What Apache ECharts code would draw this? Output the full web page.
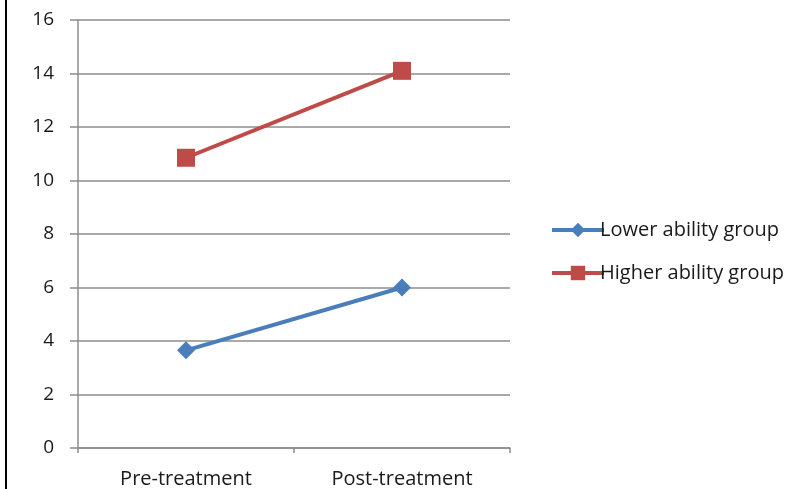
<!DOCTYPE html>
<html>
<head>
<meta charset="utf-8">
<script src="https://cdn.jsdelivr.net/npm/echarts@6/dist/echarts.min.js"></script>
<style>
  html, body { margin: 0; padding: 0; background: #ffffff; }
  #chart { width: 790px; height: 489px; }
</style>
</head>
<body>
<div id="chart"></div>
<script>
// Mean scores before and after treatment, by ability group
const categories = ['Pre-treatment', 'Post-treatment'];
const lowerAbility = [3.65, 6.0];
const higherAbility = [10.85, 14.1];
const seriesNames = ['Lower ability group', 'Higher ability group'];

const FONT = '"Open Sans", "Liberation Sans", sans-serif';
const gridColor = '#8c8c8c';
const textColor = '#1a1a1a';

const chart = echarts.init(document.getElementById('chart'), null, { renderer: 'canvas' });

chart.setOption({
  backgroundColor: '#ffffff',
  animation: false,
  graphic: [
    { type: 'rect', shape: { x: 5, y: 0, width: 2, height: 489 }, style: { fill: '#000000' }, silent: true }
  ],
  grid: { left: 78, right: 280, top: 20, bottom: 41, containLabel: false },
  legend: {
    orient: 'vertical',
    left: 545,
    top: 215,
    itemGap: 23,
    itemWidth: 52,
    itemHeight: 18,
    data: seriesNames,
    lineStyle: { width: 4 },
    textStyle: { fontFamily: FONT, fontSize: 20, color: textColor, padding: [0, 0, 0, -9] }
  },
  xAxis: {
    type: 'category',
    data: categories,
    boundaryGap: true,
    axisLine: { lineStyle: { color: gridColor, width: 1.5 } },
    axisTick: { show: true, length: 5, lineStyle: { color: gridColor, width: 1.5 } },
    axisLabel: { fontFamily: FONT, fontSize: 20, color: textColor, margin: 21 },
    splitLine: { show: false }
  },
  yAxis: {
    type: 'value',
    min: 0,
    max: 16,
    interval: 2,
    axisLine: { show: true, lineStyle: { color: gridColor, width: 1.5 } },
    axisTick: { show: true, length: 8, lineStyle: { color: gridColor, width: 1.5 } },
    axisLabel: { fontFamily: FONT, fontSize: 19, color: textColor, margin: 24 },
    splitLine: { show: true, lineStyle: { color: gridColor, width: 1.5 } }
  },
  series: [
    {
      name: seriesNames[0],
      type: 'line',
      data: lowerAbility,
      symbol: 'diamond',
      symbolSize: 18,
      lineStyle: { color: '#4a7ebb', width: 4 },
      itemStyle: { color: '#4a7ebb' }
    },
    {
      name: seriesNames[1],
      type: 'line',
      data: higherAbility,
      symbol: 'rect',
      symbolSize: 18,
      lineStyle: { color: '#be4b48', width: 4 },
      itemStyle: { color: '#be4b48' }
    }
  ]
});
</script>
</body>
</html>
